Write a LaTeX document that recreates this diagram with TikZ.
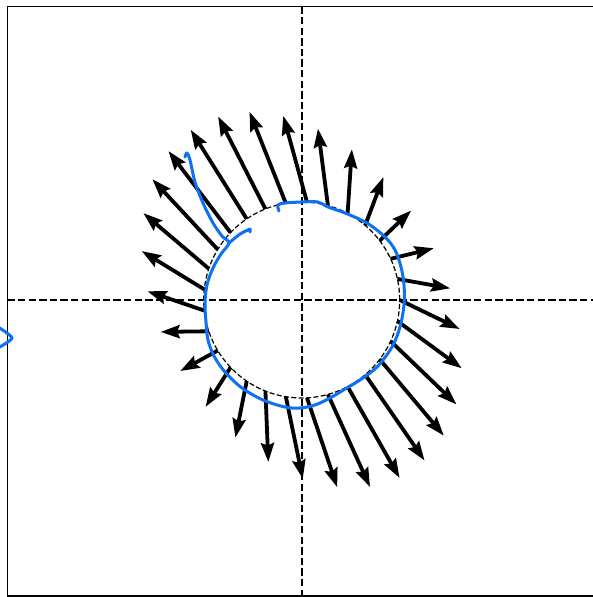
\documentclass[tikz,border=0pt]{standalone}
\usepackage{tikz}
\usetikzlibrary{arrows.meta}
\definecolor{curveblue}{RGB}{14,112,242}

\begin{document}
\begin{tikzpicture}[x=1pt,y=1pt,
    vec/.style={line width=3.8pt,-{Stealth[length=19pt,width=13pt,inset=2.5pt]}},
    axisline/.style={line width=2.3pt,dash pattern=on 7.4pt off 3.2pt},
    contour/.style={curveblue,line width=3pt,line join=round,line cap=round}]
  \useasboundingbox (-301.7,-297) rectangle (290.3,300);
  % frame and axes
  \draw[line width=1.3pt] (-294.2,-296) rectangle (293,293.5);
  \draw[axisline] (0,293.5) -- (0,-296);
  \draw[axisline] (-294.2,0) -- (292,0);
  \draw[line width=1.2pt,dash pattern=on 5pt off 2.4pt] (0,0) circle (98);
  % field on the circle
  \foreach \k in {0,...,28}{
    \pgfmathsetmacro\ang{\k*360/29}
    \draw[vec] ({98*cos(\ang)},{98*sin(\ang)})
      -- ++({60*cos(\ang)-27*sin(\ang)},{-29*cos(\ang)+88*sin(\ang)});
  }
  % blue curve (pixel coordinates)
  \begin{scope}[shift={(-301.7,300)},yscale=-1]
    \draw[contour] plot[smooth,tension=0.55] coordinates {
      (185,157) (187,153) (190,160) (195,182) (203,203) (213,223) (222,236)
      (229,243) (221,254) (213,268) (207,285) (205,303) (206,322) (208,340)
      (214,356) (225,372) (242,388) (263,400) (285,407) (300,408) (315,405)
      (330,398) (345,389) (360,380) (377,367) (392,347) (400,327) (404,305)
      (404,285) (401,267) (395,250) (385,237) (367,223) (345,213) (328,207)
      (318,202) (302,202) (285,203) (278,205) (279,211)};
    \draw[contour] plot[smooth,tension=0.55] coordinates {
      (229,243) (240,234) (248,230) (250,229) (250,232)};
    \draw[contour] plot[smooth,tension=0.4] coordinates {
      (-2,327) (12,338) (-2,348)};
  \end{scope}
\end{tikzpicture}
\end{document}
